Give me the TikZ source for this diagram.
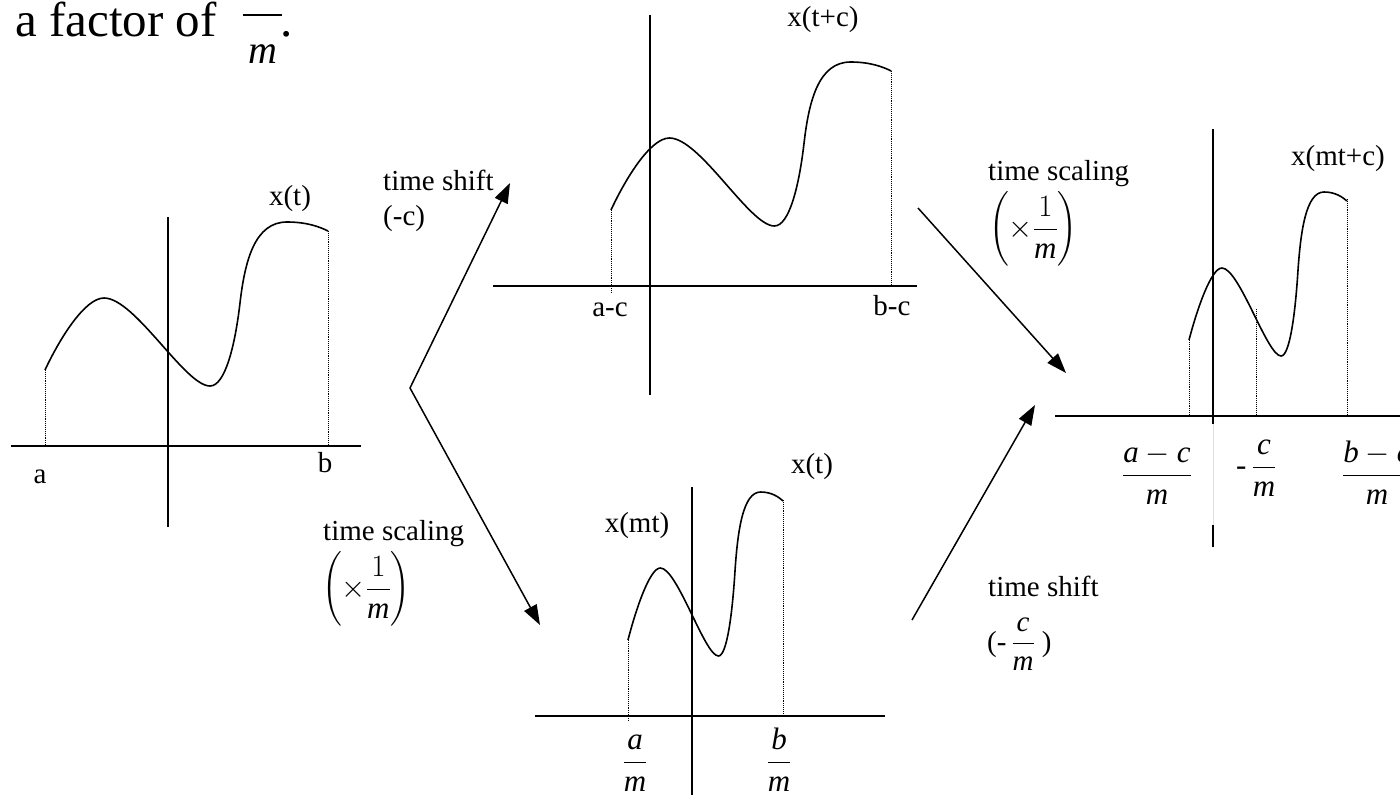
\RequirePackage{fix-cm}
\documentclass[tikz,border=0pt]{standalone}
\usepackage{amsmath}
\usepackage{fontspec}
\setmainfont{Liberation Serif}
\usetikzlibrary{arrows.meta}
\newcommand\sigcurve[3]{%
  \begin{scope}[shift={(#1,#2)}, xscale=#3]
    \draw[curve] (0,-76) .. controls (15,-108) and (40,-148) .. (59,-148)
      .. controls (90,-148) and (140,-60) .. (165,-60)
      .. controls (180,-60) and (190,-100) .. (195,-143)
      .. controls (200,-186) and (210,-224) .. (242,-224)
      .. controls (262,-224) and (275,-219) .. (283,-215);
  \end{scope}}
\begin{document}
\begin{tikzpicture}[x=1pt,y=-1pt,
  axis/.style={line width=1.5pt},
  curve/.style={line width=1.6pt, line join=round},
  guide/.style={line width=0.9pt, densely dotted},
  tip/.tip={Triangle[length=20pt,width=14pt]},
  conn/.style={line width=1.5pt, -tip},
  lbl/.style={font=\fontsize{29}{35}\selectfont, inner sep=0pt, anchor=base},
  frc/.style={font=\fontsize{31}{37}\selectfont, inner sep=0pt, anchor=base},
]
\useasboundingbox (0,0) rectangle (1400,795);
\clip (0,0) rectangle (1400,795);

% title
\node[font=\fontsize{49}{58}\selectfont, inner sep=0pt, anchor=base west] (title) at (15,36) {a factor of};
\draw[line width=1.8pt] (243,15) -- (282,15);
\node[font=\fontsize{40}{48}\selectfont\itshape, inner sep=0pt, anchor=base] (tm) at (263,63) {m};
\node[font=\fontsize{49}{58}\selectfont, inner sep=0pt, anchor=base] (dot) at (287,36) {.};

% plot 1
\draw[axis] (11,446) -- (361,446);
\draw[axis] (168,217) -- (168,527);
\sigcurve{45}{446}{1}
\draw[guide] (45,370) -- (45,446);
\draw[guide] (328,231) -- (328,446);
\node[lbl] (xt1) at (290,205) {x(t)};
\node[lbl] (la) at (40,483) {a};
\node[lbl] (lb) at (325,472) {b};

% plot 2
\draw[axis] (493,286) -- (917,286);
\draw[axis] (650,15) -- (650,395);
\sigcurve{611}{286}{0.99}
\draw[guide] (611,210) -- (611,292);
\draw[guide] (891,71) -- (891,286);
\node[lbl] (xt2) at (823,27) {x(t+c)};
\node[lbl] (lac) at (610,316) {a-c};
\node[lbl] (lbc) at (892,315) {b-c};

% plot 3
\draw[axis] (535,716) -- (885,716);
\draw[axis] (692,487) -- (692,800);
\sigcurve{628}{716}{0.548}
\draw[guide] (628,640) -- (628,721);
\draw[guide] (783,500) -- (783,716);
\node[lbl] (xt3) at (812,473) {x(t)};
\node[lbl] (xmt) at (637,532) {x(mt)};
\node[frc] (fam) at (635,770) {$\dfrac{\mathit{a}}{\mathit{m}}$};
\node[frc] (fbm) at (779,770) {$\dfrac{\mathit{b}}{\mathit{m}}$};

% plot 4
\draw[axis] (1055,416) -- (1410,416);
\draw[axis] (1213,129) -- (1213,424);
\draw[line width=0.6pt, black!12] (1213,424) -- (1213,525);
\draw[axis] (1213,525) -- (1213,547);
\sigcurve{1189}{416}{0.558}
\draw[guide] (1189,338) -- (1189,416);
\draw[guide] (1256,309) -- (1256,416);
\draw[guide] (1347,199) -- (1347,416);
\node[lbl] (xmtc) at (1338,165) {x(mt+c)};
\node[frc] (facm) at (1157,483) {$\dfrac{\mathit{a}-\mathit{c}}{\mathit{m}}$};
\node[frc, anchor=base west] (fcm) at (1236,475) {-\,$\dfrac{\mathit{c}}{\mathit{m}}$};
\node[frc] (fbcm) at (1377,483) {$\dfrac{\mathit{b}-\mathit{c}}{\mathit{m}}$};

% left connectors
\coordinate (v) at (410,388);
\coordinate (tup) at (510,183);
\coordinate (tdn) at (540,625);
\draw[line width=1.5pt, tip-tip, line join=miter] (tup) -- (v) -- (tdn);
\node[lbl, anchor=base west] (ts1) at (383,190) {time shift};
\node[lbl, anchor=base west] (c1) at (383,225) {(-c)};
\node[lbl, anchor=base west] (tsc1) at (323,540) {time scaling};
\node[frc, anchor=base west] (f1) at (322,597) {$\left(\times\dfrac{1}{\mathit{m}}\right)$};

% right connectors
\coordinate (r1s) at (918,208);
\coordinate (r1e) at (1066,373);
\coordinate (r2s) at (912,620);
\coordinate (r2e) at (1035,405);
\draw[conn] (r1s) -- (r1e);
\draw[conn] (r2s) -- (r2e);
\node[lbl, anchor=base west] (tsc2) at (988,180) {time scaling};
\node[frc, anchor=base west] (f2) at (989,237) {$\left(\times\dfrac{1}{\mathit{m}}\right)$};
\node[lbl, anchor=base west] (ts2) at (988,596) {time shift};
\node[lbl, anchor=base west] (c2) at (987,651) {(-\,$\dfrac{\mathit{c}}{\mathit{m}}$ )};
\end{tikzpicture}
\end{document}
